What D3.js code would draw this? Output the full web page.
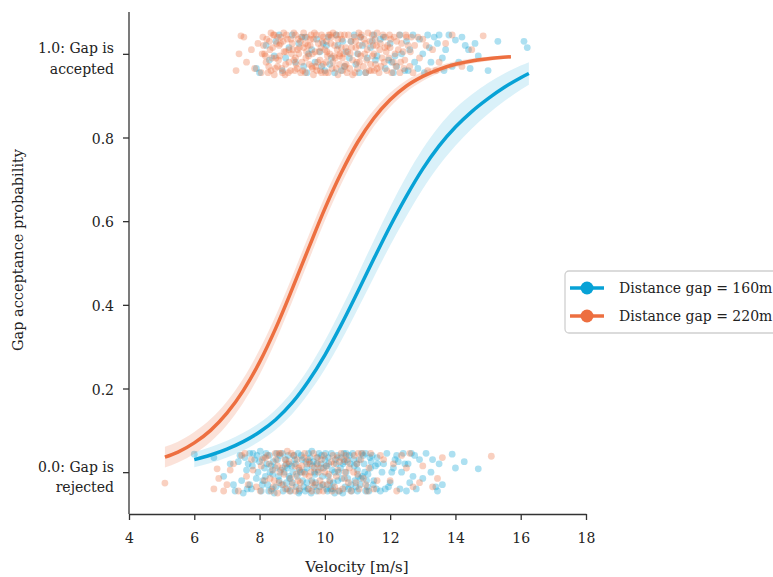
<!DOCTYPE html>
<meta charset="utf-8">
<style>

body {
  margin: 0;
  background: #fff;
}

svg {
  font-family: "DejaVu Serif", serif;
}

.axis {
  font-family: "DejaVu Serif", serif;
  font-size: 14px;
}

.axis text {
  fill: #222;
}

.axis path,
.axis line {
  stroke: #333;
  stroke-width: 1.3px;
}

.label {
  font-size: 15px;
  fill: #222;
  text-anchor: middle;
}

.legend text {
  font-size: 14px;
  fill: #222;
}

</style>
<body>
<script src="https://cdn.jsdelivr.net/npm/d3@7"></script>
<script>

var blue = "#07a2d6",
    orange = "#ed6f40";

// fitted acceptance curves
var v160 = [6.0, 6.5, 7.0, 7.5, 8.0, 8.5, 9.0, 9.5, 10.0, 10.5, 11.0, 11.5, 12.0, 12.5, 13.0, 13.5, 14.0, 14.5, 15.0, 15.5, 16.0, 16.25];
var p160 = [0.03, 0.041, 0.055, 0.073, 0.096, 0.126, 0.166, 0.218, 0.28, 0.352, 0.43, 0.51, 0.588, 0.66, 0.725, 0.78, 0.825, 0.862, 0.893, 0.92, 0.943, 0.953];
var ci160 = [0.018, 0.019, 0.02, 0.021, 0.022, 0.024, 0.027, 0.03, 0.034, 0.038, 0.041, 0.044, 0.046, 0.048, 0.048, 0.047, 0.045, 0.041, 0.037, 0.033, 0.029, 0.027];

var v220 = [5.1, 5.5, 6.0, 6.5, 7.0, 7.5, 8.0, 8.5, 9.0, 9.5, 10.0, 10.5, 11.0, 11.5, 12.0, 12.5, 13.0, 13.5, 14.0, 14.5, 15.0, 15.7];
var p220 = [0.036, 0.048, 0.07, 0.1, 0.141, 0.195, 0.263, 0.345, 0.438, 0.535, 0.63, 0.715, 0.788, 0.846, 0.89, 0.923, 0.946, 0.963, 0.975, 0.983, 0.988, 0.993];
var ci220 = [0.025, 0.025, 0.026, 0.027, 0.028, 0.029, 0.03, 0.03, 0.03, 0.03, 0.029, 0.027, 0.024, 0.02, 0.017, 0.014, 0.011, 0.009, 0.007, 0.006, 0.005, 0.004];

// observed gaps: [velocity, vertical jitter]
var acc220 = [[7.28,-0.04],[7.37,0.0],[7.43,0.043],[7.52,0.04],[7.6,-0.02],[7.75,0.01],[7.85,-0.035],[7.95,0.025],[8.05,-0.045],[8.1,0.04],
  [8.15,0.0],[8.2,-0.02],[8.3,0.03],[8.35,-0.04],[8.4,0.015],[8.45,0.045],[8.5,-0.01],[8.55,-0.03],[8.6,0.02],[8.65,0.04],
  [8.7,-0.045],[8.75,0.005],[8.8,-0.025],[8.85,0.035],[8.9,0.01],[8.95,-0.04],[9.0,0.025],[9.05,-0.015],[9.1,0.045],[9.15,-0.035],
  [9.2,0.0],[9.25,0.03],[9.3,-0.02],[9.35,0.015],[9.4,-0.045],[9.45,0.04],[9.5,-0.005],[9.55,0.02],[9.6,-0.03],[9.65,0.035],
  [9.7,0.005],[9.75,-0.04],[9.8,0.025],[9.85,-0.015],[9.9,0.045],[9.95,-0.025],[10.0,0.01],[10.05,0.03],[10.1,-0.045],[10.15,0.0],
  [10.2,0.04],[10.25,-0.02],[10.3,0.02],[10.35,-0.035],[10.4,0.035],[10.45,-0.005],[10.5,0.015],[10.55,-0.04],[10.6,0.045],[10.65,-0.025],
  [10.7,0.005],[10.8,0.03],[10.85,-0.015],[10.9,0.04],[11.0,-0.035],[11.05,0.02],[11.1,-0.005],[11.2,0.035],[11.25,-0.045],[11.3,0.01],
  [11.4,-0.025],[11.45,0.045],[11.5,0.0],[11.6,-0.035],[11.7,0.025],[11.75,-0.01],[11.85,0.04],[11.9,-0.04],[12.0,0.015],[12.1,-0.02],
  [12.2,0.03],[12.3,-0.045],[12.4,0.005],[12.5,0.04],[12.6,-0.03],[12.75,0.02],[12.9,-0.01],[13.0,0.035],[13.15,-0.04],[13.3,0.01],
  [13.5,-0.02],[13.7,0.025],[13.9,0.045],[14.2,-0.03],[14.5,0.01],[14.85,0.043],
  [8.22,0.035],[8.38,-0.01],[8.52,0.025],[8.68,-0.035],[8.82,0.045],[8.98,0.0],[9.12,-0.025],[9.28,0.04],[9.42,-0.01],[9.58,0.045],
  [9.72,-0.03],[9.88,0.015],[10.02,-0.045],[10.18,0.025],[10.32,-0.01],[10.48,0.045],[10.62,-0.03],[10.78,0.0],[10.92,-0.045],[11.08,0.04],
  [11.22,0.0],[11.38,0.03],[11.52,-0.04],[11.68,0.01],[11.82,-0.02],[11.98,0.045],[12.15,0.0],[12.35,0.025],[8.9,-0.02],[9.35,0.05],
  [9.95,0.04],[10.4,-0.05],[10.95,0.015],[11.6,0.05],[12.05,-0.045],[8.45,-0.05],[9.05,0.05],[9.65,-0.05],[10.25,0.05],[10.85,-0.05],
  [8.12,0.02],[8.28,-0.03],[8.42,0.045],[8.58,-0.015],[8.72,0.03],[8.88,-0.045],[9.02,0.01],[9.18,0.035],[9.32,-0.04],[9.48,0.02],
  [9.62,0.0],[9.78,-0.02],[9.92,0.03],[10.08,-0.005],[10.22,-0.035],[10.38,0.01],[10.52,0.035],[10.68,-0.045],[10.82,0.015],[10.98,-0.02],
  [11.12,0.045],[11.28,-0.015],[11.42,-0.04],[11.58,0.02],[11.72,-0.03],[11.88,0.005],[12.02,0.035],[12.18,-0.03],[12.28,0.045],[12.45,-0.015],
  [12.55,0.02],[12.7,-0.045],[12.85,0.04],[8.35,0.05],[8.62,-0.005],[8.78,-0.05],[9.08,-0.04],[9.22,0.015],[9.52,-0.025],[9.68,0.05],
  [9.82,0.005],[10.12,0.045],[10.28,-0.005],[10.58,0.0],[10.72,0.045],[11.02,0.0],[11.18,-0.03],[11.32,0.05],[11.48,0.02],[11.78,0.045],
  [8.08,0.0],[8.55,0.04],[9.4,0.025],[9.9,-0.045],[10.45,-0.025],[11.55,-0.025],[12.25,0.01],[12.65,0.04],[13.1,0.02],[13.4,-0.04],
  [8.18,-0.005],[8.32,0.01],[8.48,-0.035],[8.64,0.025],[8.8,0.005],[8.96,0.035],[9.1,-0.01],[9.26,-0.045],[9.44,0.005],[9.56,0.035],
  [9.74,0.045],[9.86,-0.04],[10.04,-0.02],[10.16,0.045],[10.34,0.045],[10.46,0.0],[10.64,0.015],[10.76,-0.035],[10.94,0.03],[11.06,-0.02],
  [11.24,0.025],[11.36,-0.04],[11.54,0.035],[11.66,-0.045],[11.84,0.015],[11.96,-0.01],[12.12,0.04],[12.32,-0.02],[12.48,0.045],[12.62,0.005],
  [8.26,-0.045],[8.74,0.05],[9.16,0.01],[9.62,-0.035],[10.06,0.005],[10.54,-0.01],[11.04,0.05],[11.46,-0.005],[11.92,0.02],[12.42,-0.035]];

var acc160 = [[7.9,-0.035],[8.0,-0.045],[8.3,-0.015],[8.5,0.03],[8.7,-0.04],[8.9,0.015],[9.1,-0.02],[9.3,0.04],[9.45,-0.045],[9.6,0.01],
  [9.75,0.035],[9.9,-0.03],[10.05,0.02],[10.2,-0.01],[10.35,0.045],[10.5,-0.04],[10.65,0.005],[10.8,0.03],[10.95,-0.025],[11.1,0.04],
  [11.25,-0.045],[11.4,0.015],[11.55,-0.015],[11.7,0.035],[11.85,-0.035],[12.0,0.025],[12.15,-0.005],[12.3,0.045],[12.45,-0.04],[12.6,0.01],
  [12.75,-0.02],[12.9,0.035],[13.05,-0.045],[13.2,0.015],[13.35,0.04],[13.45,0.025],[13.6,-0.01],[13.8,0.045],[14.0,0.033],[14.1,-0.02],
  [14.3,0.02],[14.45,-0.035],[14.6,0.025],[14.4,0.01],[15.0,-0.04],[16.1,0.03],[16.2,0.015],[9.0,0.045],[10.0,-0.04],[11.0,0.0],
  [12.2,-0.03],[13.0,0.0],[10.4,0.02],[11.6,-0.005],[9.5,0.0],
  [8.2,0.02],[8.8,-0.01],[9.2,0.025],[9.7,-0.02],[10.1,0.04],[10.6,-0.03],[10.9,0.045],[11.3,-0.01],[11.8,0.04],[12.1,-0.045],
  [12.5,0.03],[12.85,-0.035],[13.25,-0.02],[13.7,0.01],[13.9,-0.03],[14.2,0.04],[9.85,0.005],[10.3,-0.045],[11.45,0.03],[12.7,0.045],
  [8.6,0.045],[9.35,-0.03],[10.75,-0.01],[11.95,-0.015],[13.5,0.045],[14.7,-0.005],[12.35,0.0],[11.15,0.02],[9.95,0.025],[15.3,0.03],
  [10.15,-0.025],[10.55,0.03],[11.05,-0.045],[11.5,0.045],[12.05,-0.02],[12.55,-0.04],[13.15,0.045],[13.65,-0.04],[9.4,0.04],[8.45,-0.005]];

var rej160 = [[6.0,0.043],[6.9,-0.01],[7.1,0.02],[7.25,-0.045],[7.4,0.04],[7.5,-0.05],[7.6,0.005],[7.7,-0.03],[7.8,0.045],[7.9,-0.015],
  [8.0,0.025],[8.05,-0.045],[8.15,0.01],[8.25,-0.03],[8.3,0.04],[8.4,-0.005],[8.45,-0.05],[8.55,0.03],[8.6,-0.02],[8.7,0.045],
  [8.75,0.0],[8.85,-0.04],[8.9,0.02],[9.0,-0.025],[9.05,0.04],[9.15,-0.01],[9.2,-0.05],[9.3,0.03],[9.35,-0.035],[9.45,0.01],
  [9.5,0.045],[9.6,-0.02],[9.65,0.025],[9.75,-0.045],[9.8,0.005],[9.9,0.04],[9.95,-0.03],[10.05,0.015],[10.1,-0.01],[10.2,0.045],
  [10.25,-0.04],[10.35,0.02],[10.4,-0.02],[10.5,0.035],[10.55,-0.05],[10.65,0.0],[10.75,0.04],[10.8,-0.03],[10.9,0.015],[11.0,-0.045],
  [11.05,0.03],[11.15,-0.01],[11.25,0.045],[11.3,-0.035],[11.4,0.01],[11.5,-0.02],[11.6,0.035],[11.7,-0.045],[11.8,0.02],[11.9,0.045],
  [12.0,-0.025],[12.1,0.01],[12.2,0.04],[12.3,-0.04],[12.4,0.045],[12.55,0.02],[12.7,-0.01],[12.8,-0.04],[12.9,0.03],[13.1,0.045],
  [13.25,0.0],[13.4,-0.035],[13.5,0.02],[13.9,0.043],[14.27,0.025],[14.7,0.008],
  [7.85,0.03],[8.1,-0.02],[8.35,0.015],[8.5,-0.035],[8.65,0.005],[8.8,0.03],[8.95,-0.045],[9.1,0.02],[9.25,0.0],[9.4,-0.045],
  [9.55,0.035],[9.7,-0.005],[9.85,-0.035],[10.0,0.03],[10.15,-0.025],[10.3,0.0],[10.45,-0.045],[10.6,0.025],[10.7,-0.015],[10.85,0.045],
  [11.0,0.005],[11.2,0.02],[11.35,-0.045],[11.45,0.04],[8.2,0.045],[8.9,-0.01],[9.6,0.05],[10.3,-0.05],[7.65,0.02],[7.45,-0.02],
  [12.6,-0.025],[13.0,-0.015],
  [7.55,0.035],[7.75,-0.04],[7.95,0.0],[8.12,0.035],[8.28,-0.045],[8.42,0.025],[8.58,-0.01],[8.72,-0.045],[8.88,0.04],[9.02,0.0],
  [9.18,0.045],[9.32,-0.02],[9.48,-0.04],[9.62,0.015],[9.78,0.035],[9.92,-0.01],[10.08,-0.045],[10.22,0.005],[10.38,0.04],[10.52,-0.015],
  [10.68,0.03],[10.82,-0.045],[10.98,0.02],[11.12,0.045],[11.28,-0.02],[11.42,0.025],[11.58,-0.04],[11.75,0.0],[11.95,-0.035],[12.15,0.03],
  [12.35,0.0],[12.5,-0.045],[12.75,0.04],[13.3,0.03],[13.45,-0.045],[8.02,0.05],[8.48,0.01],[8.62,0.04],[8.98,0.015],[9.12,-0.035],
  [9.28,0.04],[9.42,0.025],[9.58,-0.05],[9.72,-0.025],[9.88,0.02],[10.02,0.045],[10.18,-0.04],[10.32,0.03],[10.48,0.01],[10.62,-0.035],
  [10.78,0.02],[10.92,-0.02],[11.08,-0.03],[11.22,0.0],[11.38,0.035],[11.55,0.015],[8.18,-0.01],[8.82,-0.025],[9.22,0.005],[9.68,0.0],
  [10.12,0.02],[10.58,0.045],[11.1,-0.015],[7.35,0.025],[7.2,-0.03],[12.45,0.02],[12.05,0.0],[6.6,0.035],[13.6,-0.03],[14.0,0.01],
  [7.62,-0.04],[7.78,0.015],[7.92,0.04],[8.08,-0.03],[8.22,0.02],[8.38,-0.04],[8.52,0.045],[8.68,-0.03],[8.78,0.015],[8.92,-0.015],
  [9.08,0.03],[9.22,-0.045],[9.38,0.0],[9.52,0.025],[9.66,-0.035],[9.82,0.045],[9.96,0.01],[10.1,0.035],[10.26,-0.025],[10.42,0.0],
  [10.56,0.02],[10.72,-0.04],[10.88,0.03],[11.02,-0.01],[11.18,0.04],[11.32,-0.005],[11.48,-0.03],[11.62,0.02],[11.85,-0.04],[12.25,0.025],
  [8.32,0.0],[8.85,0.01],[9.45,-0.025],[10.05,-0.04],[10.65,0.045],[11.25,-0.045],[7.7,0.045],[9.75,0.02],[10.95,-0.035],[12.65,0.045]];

var rej220 = [[5.1,-0.026],[6.6,-0.04],[6.7,0.008],[6.75,-0.015],[7.0,-0.03],[7.2,0.02],[7.35,-0.045],[7.45,0.04],[7.6,-0.01],[7.75,0.03],
  [7.9,-0.035],[8.05,0.015],[8.15,-0.02],[8.25,0.04],[8.35,-0.045],[8.4,0.005],[8.5,0.03],[8.6,-0.025],[8.65,0.045],[8.75,-0.005],
  [8.8,-0.04],[8.9,0.025],[8.95,-0.015],[9.05,0.04],[9.1,-0.045],[9.2,0.01],[9.25,-0.025],[9.35,0.035],[9.4,-0.005],[9.5,-0.04],
  [9.55,0.02],[9.65,0.045],[9.7,-0.03],[9.8,0.0],[9.9,0.03],[9.95,-0.045],[10.05,0.015],[10.15,-0.02],[10.25,0.04],[10.3,-0.035],
  [10.4,0.005],[10.5,0.045],[10.6,-0.015],[10.7,0.025],[10.8,-0.045],[10.9,0.04],[11.0,-0.005],[11.1,0.03],[11.25,-0.03],[11.4,0.045],
  [11.6,-0.02],[11.8,0.03],[12.1,0.02],[12.2,-0.045],[12.5,0.01],[12.7,-0.035],[13.0,0.015],[13.3,-0.035],[13.6,0.035],[15.1,0.038],
  [8.3,0.02],[8.55,-0.05],[8.7,0.01],[8.85,0.05],[9.0,-0.03],[9.15,0.03],[9.3,0.0],[9.45,0.02],[9.6,-0.045],[9.75,0.035],
  [9.85,-0.02],[10.0,0.0],[10.2,0.025],[10.35,-0.01],[10.55,-0.04],[10.75,0.01],[11.05,-0.04],[7.1,0.005],[6.9,-0.045],
  [8.02,-0.045],[8.18,0.035],[8.32,-0.015],[8.48,0.045],[8.62,0.0],[8.78,0.03],[8.92,-0.045],[9.08,0.015],[9.22,-0.04],[9.38,0.045],
  [9.52,-0.01],[9.68,0.01],[9.82,-0.045],[9.98,0.04],[10.12,-0.005],[10.28,0.02],[10.42,-0.045],[10.58,0.03],[10.72,-0.025],[10.88,0.0],
  [11.02,0.045],[11.18,-0.015],[11.35,0.01],[11.5,-0.04],[11.7,0.04],[12.0,-0.02],[12.35,0.04],[12.9,-0.025],[8.45,-0.02],[8.72,-0.03],
  [8.98,0.045],[9.28,0.015],[9.58,0.0],[9.92,-0.03],[10.45,0.025],[10.95,-0.025],[7.55,0.045],[7.8,0.005],[12.6,0.045],[13.45,-0.015],
  [9.12,-0.005],[9.78,0.02],[10.08,-0.03],[8.55,0.015],[10.65,0.04],
  [8.08,0.03],[8.42,-0.035],[8.82,0.02],[9.18,-0.02],[9.48,0.03],[9.88,0.01],[10.22,-0.045],[10.62,0.0],[10.98,0.02],[11.3,-0.045],
  [8.6,0.045],[9.62,-0.025],[10.38,0.035],[11.15,0.045],[7.65,-0.03]];

var series = [
  {name: "Distance gap = 160m", color: blue, band: 0.15, v: v160, p: p160, ci: ci160, acc: acc160, rej: rej160},
  {name: "Distance gap = 220m", color: orange, band: 0.2, v: v220, p: p220, ci: ci220, acc: acc220, rej: rej220}
];

var xTicks = [4, 6, 8, 10, 12, 14, 16, 18],
    yTicks = [0, 0.2, 0.4, 0.6, 0.8, 1.0];

var width = 773,
    height = 577;

var x = d3.scaleLinear()
    .domain([4, 18])
    .range([129, 586]);

var y = d3.scaleLinear()
    .domain([-0.1, 1.1])
    .range([514, 12]);

var svg = d3.select("body").append("svg")
    .attr("width", width)
    .attr("height", height);

// jittered observations: rejected at 0, accepted at 1
var dots = svg.append("g");

series.forEach(function(s) {
  var pts = s.rej.map(function(d) { return [d[0], d[1]]; })
      .concat(s.acc.map(function(d) { return [d[0], 1 + d[1]]; }));

  dots.append("g").selectAll("circle")
      .data(pts)
    .enter().append("circle")
      .attr("cx", function(d) { return x(d[0]); })
      .attr("cy", function(d) { return y(d[1]); })
      .attr("r", 3.4)
      .style("fill", s.color)
      .style("fill-opacity", 0.33);
});

var area = d3.area()
    .curve(d3.curveMonotoneX)
    .x(function(d) { return x(d.v); })
    .y0(function(d) { return y(d.p - d.ci); })
    .y1(function(d) { return y(d.p + d.ci); });

var line = d3.line()
    .curve(d3.curveMonotoneX)
    .x(function(d) { return x(d.v); })
    .y(function(d) { return y(d.p); });

series.forEach(function(s) {
  var rows = s.v.map(function(v, i) { return {v: v, p: s.p[i], ci: s.ci[i]}; });

  svg.append("path")
      .datum(rows)
      .attr("d", area)
      .style("fill", s.color)
      .style("fill-opacity", s.band);

  svg.append("path")
      .datum(rows)
      .attr("d", line)
      .style("fill", "none")
      .style("stroke", s.color)
      .style("stroke-width", 3.5);
});

// axes
svg.append("g")
    .attr("class", "axis")
    .attr("transform", "translate(0,514)")
    .call(d3.axisBottom(x).tickValues(xTicks).tickSize(6).tickSizeOuter(0).tickPadding(12))
    .call(function(g) { g.selectAll("text").attr("dy", "0.8em"); });

var yAxis = svg.append("g")
    .attr("class", "axis")
    .attr("transform", "translate(129,0)")
    .call(d3.axisLeft(y).tickValues(yTicks).tickSize(6).tickSizeOuter(0).tickPadding(9)
      .tickFormat(d3.format(".1f")));

yAxis.select(".domain")
    .attr("d", "M0," + y(1.1) + "V" + y(-0.1));

yAxis.selectAll(".tick text")
    .attr("dy", "0.4em")
    .each(function(d) {
      if (d !== 0 && d !== 1) return;
      var t = d3.select(this).text("").attr("dy", null);
      t.append("tspan")
          .attr("x", -15)
          .attr("dy", "-0.07em")
          .text(d === 1 ? "1.0: Gap is" : "0.0: Gap is");
      t.append("tspan")
          .attr("x", -15)
          .attr("dy", "1.45em")
          .text(d === 1 ? "accepted" : "rejected");
    });

svg.append("text")
    .attr("class", "label")
    .attr("x", 357)
    .attr("y", 572)
    .text("Velocity [m/s]");

svg.append("text")
    .attr("class", "label")
    .style("font-size", "14.5px")
    .attr("transform", "translate(23,250)rotate(-90)")
    .text("Gap acceptance probability");

// legend
var legend = svg.append("g")
    .attr("class", "legend")
    .attr("transform", "translate(565,271)");

legend.append("rect")
    .attr("width", 230)
    .attr("height", 62)
    .attr("rx", 4)
    .style("fill", "#fff")
    .style("fill-opacity", 0.8)
    .style("stroke", "#d0d0d0")
    .style("stroke-width", 1.3);

var item = legend.selectAll(".item")
    .data(series)
  .enter().append("g")
    .attr("class", "item")
    .attr("transform", function(d, i) { return "translate(0," + (17 + i * 28) + ")"; });

item.append("line")
    .attr("x1", 5)
    .attr("x2", 39)
    .style("stroke", function(d) { return d.color; })
    .style("stroke-width", 3.5);

item.append("circle")
    .attr("cx", 22)
    .attr("r", 6.5)
    .style("fill", function(d) { return d.color; });

item.append("text")
    .attr("x", 54)
    .attr("dy", "0.36em")
    .text(function(d) { return d.name; });

</script>
</body>
